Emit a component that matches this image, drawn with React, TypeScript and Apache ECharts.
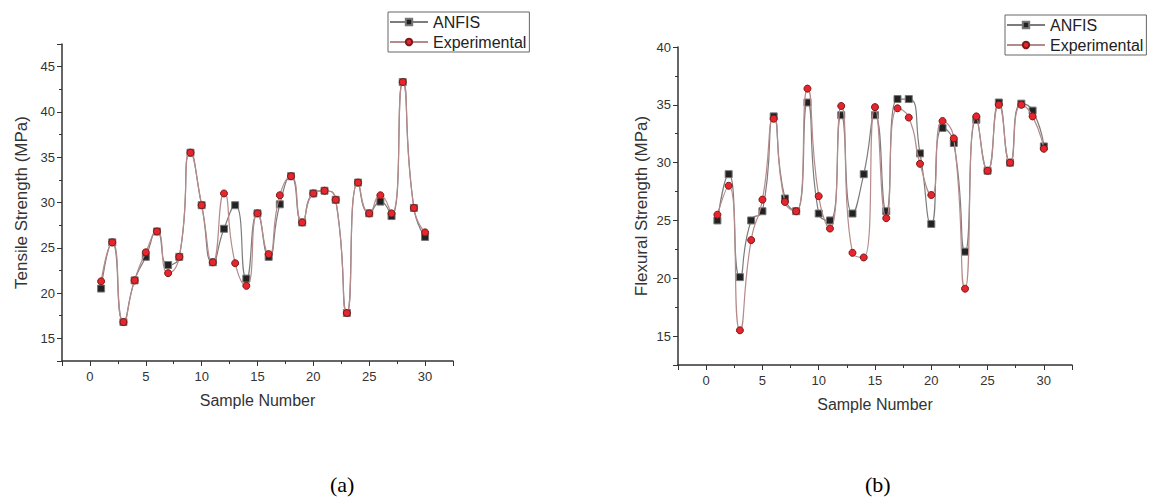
import React, { useEffect, useRef } from "react";
import * as echarts from "echarts";

const samples: number[] = Array.from({ length: 30 }, (_, i) => i + 1);

const tensileANFIS: number[] = [
  20.5, 25.6, 16.8, 21.4, 24.0, 26.8, 23.1, 24.0, 35.5, 29.7,
  23.4, 27.1, 29.7, 21.6, 28.8, 24.0, 29.8, 32.9, 27.8, 31.0,
  31.3, 30.3, 17.8, 32.2, 28.8, 30.1, 28.5, 43.3, 29.4, 26.2,
];
const tensileExp: number[] = [
  21.3, 25.6, 16.8, 21.4, 24.5, 26.8, 22.2, 24.0, 35.5, 29.7,
  23.4, 31.0, 23.3, 20.8, 28.8, 24.3, 30.8, 32.9, 27.8, 31.0,
  31.3, 30.3, 17.8, 32.2, 28.8, 30.8, 28.8, 43.3, 29.4, 26.7,
];
const flexANFIS: number[] = [
  25.0, 29.0, 20.1, 25.0, 25.8, 34.0, 26.9, 25.8, 35.2, 25.6,
  25.0, 34.1, 25.6, 29.0, 34.1, 25.8, 35.5, 35.5, 30.8, 24.7,
  33.0, 31.7, 22.3, 33.7, 29.3, 35.2, 30.0, 35.1, 34.5, 31.4,
];
const flexExp: number[] = [
  25.5, 28.0, 15.5, 23.3, 26.8, 33.8, 26.6, 25.8, 36.4, 27.1,
  24.3, 34.9, 22.2, 21.8, 34.8, 25.2, 34.7, 33.9, 29.9, 27.2,
  33.6, 32.1, 19.1, 34.0, 29.3, 35.0, 30.0, 35.0, 34.0, 31.2,
];

const seriesNames = ["ANFIS", "Experimental"];
const yNames = ["Tensile Strength (MPa)", "Flexural Strength (MPa)"];
const xName = "Sample Number";
const captions = ["(a)", "(b)"];

const pair = (ys: number[]) => samples.map((x, i) => [x, ys[i]]);

const FONT = "Liberation Sans, Arial, sans-serif";
const AXIS_COLOR = "#333";

function xAxis(gridIndex: number) {
  return {
    type: "value",
    gridIndex,
    min: -2.5,
    max: 32.5,
    splitNumber: 7,
    name: xName,
    nameLocation: "middle",
    nameGap: 31,
    nameTextStyle: { fontFamily: FONT, fontSize: 16, color: "#333" },
    axisLine: { show: true, onZero: false, lineStyle: { color: AXIS_COLOR, width: 1.5 } },
    axisTick: { show: true, length: 5, lineStyle: { color: AXIS_COLOR, width: 1 } },
    minorTick: { show: true, splitNumber: 2, length: 3, lineStyle: { color: AXIS_COLOR, width: 1 } },
    splitLine: { show: false },
    axisLabel: {
      fontFamily: FONT,
      fontSize: 13,
      color: "#333",
      margin: 9,
      formatter: (v: number) => (Math.abs(v % 5) < 1e-9 ? String(v) : ""),
    },
  };
}

function yAxis(gridIndex: number, min: number, max: number, split: number, gap: number) {
  return {
    type: "value",
    gridIndex,
    min,
    max,
    splitNumber: split,
    name: yNames[gridIndex],
    nameLocation: "middle",
    nameGap: gap,
    nameTextStyle: { fontFamily: FONT, fontSize: 17, color: "#333" },
    axisLine: { show: true, onZero: false, lineStyle: { color: AXIS_COLOR, width: 1.5 } },
    axisTick: { show: true, length: 5, lineStyle: { color: AXIS_COLOR, width: 1 } },
    minorTick: { show: true, splitNumber: 2, length: 3, lineStyle: { color: AXIS_COLOR, width: 1 } },
    splitLine: { show: false },
    axisLabel: {
      fontFamily: FONT,
      fontSize: 13,
      color: "#333",
      margin: 7,
      formatter: (v: number) => (Math.abs(v % 5) < 1e-9 ? String(v) : ""),
    },
  };
}

function lineSeries(name: string, idx: number, data: number[][], isExp: boolean) {
  return {
    name,
    type: "line",
    xAxisIndex: idx,
    yAxisIndex: idx,
    data,
    smooth: 0.6,
    z: isExp ? 3 : 2,
    symbol: isExp ? "circle" : "rect",
    symbolSize: 7,
    lineStyle: { color: isExp ? "#b58a8a" : "#7c7c7c", width: 1.2 },
    itemStyle: isExp
      ? { color: "#e8242c", borderColor: "#7a1a1a", borderWidth: 1 }
      : { color: "#222222", borderColor: "#777777", borderWidth: 1 },
  };
}

function legend(left: number, top: number) {
  return {
    orient: "vertical",
    left,
    top,
    data: seriesNames,
    itemWidth: 38,
    itemHeight: 8,
    itemGap: 4,
    padding: [2, 3, 2, 1],
    borderColor: "#666",
    borderWidth: 1,
    textStyle: { fontFamily: FONT, fontSize: 16, color: "#222" },
  };
}

export default function App() {
  const ref = useRef<HTMLDivElement>(null);
  useEffect(() => {
    if (!ref.current) return;
    const chart = echarts.init(ref.current, undefined, { renderer: "svg" });
    chart.setOption({
      animation: false,
      backgroundColor: "#ffffff",
      grid: [
        { left: 62, top: 44, width: 391, height: 317 },
        { left: 678, top: 47, width: 394, height: 318 },
      ],
      xAxis: [xAxis(0), xAxis(1)],
      yAxis: [yAxis(0, 12.5, 47.5, 7, 32), yAxis(1, 12.5, 40, 6, 28)],
      legend: [legend(388, 12), legend(1005, 15)],
      series: [
        lineSeries(seriesNames[0], 0, pair(tensileANFIS), false),
        lineSeries(seriesNames[1], 0, pair(tensileExp), true),
        lineSeries(seriesNames[0], 1, pair(flexANFIS), false),
        lineSeries(seriesNames[1], 1, pair(flexExp), true),
      ],
      graphic: [
        {
          type: "text",
          left: 330,
          top: 473,
          style: { text: captions[0], font: "22px 'Liberation Serif', 'Times New Roman', serif", fill: "#000" },
        },
        {
          type: "text",
          left: 865,
          top: 473,
          style: { text: captions[1], font: "22px 'Liberation Serif', 'Times New Roman', serif", fill: "#000" },
        },
      ],
    });
    return () => chart.dispose();
  }, []);
  return (
    <div
      ref={ref}
      style={{ position: "absolute", left: 0, top: 0, width: 1153, height: 502, background: "#fff" }}
    />
  );
}
